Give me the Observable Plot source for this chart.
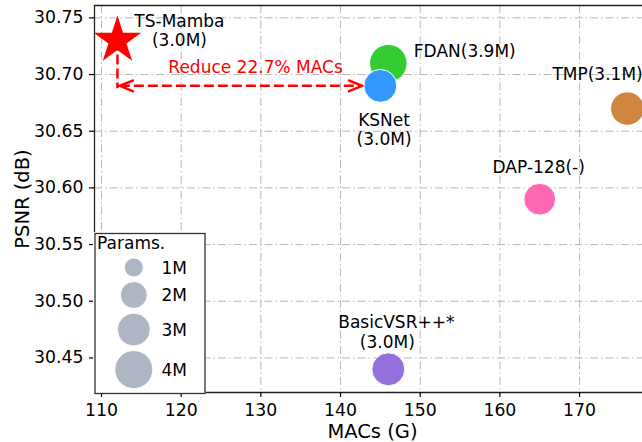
<!DOCTYPE html>
<html>
<head>
<meta charset="utf-8">
<script src="https://cdn.jsdelivr.net/npm/d3@7"></script>
<script src="https://cdn.jsdelivr.net/npm/@observablehq/plot@0.6"></script>
<style>
  html, body { margin: 0; padding: 0; background: white; overflow: hidden; }
  #wrap { position: relative; width: 642px; height: 442px; overflow: hidden; }
  #legend { position: absolute; left: 93px; top: 232px; }
</style>
</head>
<body>
<div id="wrap"><div id="chart"></div><div id="legend"></div></div>
<script>
// ---- data ----
const models = ["FDAN", "KSNet", "TMP", "DAP-128", "BasicVSR++*"];
const macs   = [146, 145, 176, 165, 146];          // G
const psnr   = [30.71, 30.69, 30.67, 30.59, 30.44]; // dB
const params = [3.9, 3.0, 3.1, 2.8, 3.0];           // M (DAP drawn slightly smaller, unknown "-")
const paramLabels = ["(3.9M)", "(3.0M)", "(3.1M)", "(-)", "(3.0M)"];

const oursName = "TS-Mamba";
const oursMacs = [112];
const oursPsnr = [30.73];
const oursParamsLabel = "(3.0M)";

const reduceText = "Reduce 22.7% MACs";
const arrowX = [112.3, 142.7];   // arrow tips (MACs)
const arrowY = [30.69];          // arrow level (PSNR)

const xTicks = [110, 120, 130, 140, 150, 160, 170];
const yTicks = [30.45, 30.50, 30.55, 30.60, 30.65, 30.70, 30.75];
const xDomain = [109.12, 177.9];
const yDomain = [30.4195, 30.7609];

const legendParams = [1, 2, 3, 4];
const legendLabels = ["1M", "2M", "3M", "4M"];
const legendTitle = "Params.";

// ---- styles ----
const palette = ["#33cc33", "#3399ff", "#cd853f", "#ff69b4", "#9370db"];
const red = "#ff0000";
const gridStyle = {stroke: "#b8b8b8", strokeOpacity: 1, strokeWidth: 1, strokeDasharray: "8,3,1.5,3"};
const font = "DejaVu Sans";

const rows = models.map((m, i) => ({model: m, macs: macs[i], psnr: psnr[i], params: params[i], plabel: paramLabels[i]}));
const ours = oursMacs.map((x, i) => ({macs: x, psnr: oursPsnr[i]}));
const row = name => rows.filter(d => d.model === name);

// custom open arrowhead symbols (tip at origin)
const headLeft = {draw(ctx, size) { const s = Math.sqrt(size / Math.PI); ctx.moveTo(s, -0.41 * s); ctx.lineTo(0, 0); ctx.lineTo(s, 0.41 * s); }};
const headRight = {draw(ctx, size) { const s = Math.sqrt(size / Math.PI); ctx.moveTo(-s, -0.41 * s); ctx.lineTo(0, 0); ctx.lineTo(-s, 0.41 * s); }};

const rScale = {type: "sqrt", domain: [0, 4], range: [0, 19]};

const chart = Plot.plot({
  width: 642, height: 442,
  marginLeft: 94, marginRight: 0, marginTop: 5, marginBottom: 50,
  style: {fontFamily: font, fontSize: "17px", background: "white", color: "black"},
  x: {domain: xDomain},
  y: {domain: yDomain},
  r: rScale,
  color: {domain: models, range: palette},
  marks: [
    Plot.gridX({ticks: xTicks, ...gridStyle}),
    Plot.gridY({ticks: yTicks, ...gridStyle}),
    // spines (left, top, bottom)
    Plot.ruleX([xDomain[0]], {stroke: "#222", strokeWidth: 1.3}),
    Plot.ruleY(yDomain, {stroke: "#222", strokeWidth: 1.3}),
    Plot.axisX({ticks: xTicks, tickSize: 5, tickPadding: 6, label: null, strokeWidth: 1.2, fontSize: 17.3}),
    Plot.axisY({ticks: yTicks, tickSize: 5, tickPadding: 6, label: null, tickFormat: d3.format(".2f"), strokeWidth: 1.2, fontSize: 17.3}),
    Plot.text(["MACs (G)"], {frameAnchor: "bottom", textAnchor: "middle", lineAnchor: "middle", dx: 4, dy: 39, fontSize: 19.5}),
    Plot.text(["PSNR (dB)"], {frameAnchor: "left", textAnchor: "middle", lineAnchor: "middle", rotate: -90, dx: -72, fontSize: 19.5}),
    // red dashed guides
    Plot.link(ours, {x1: "macs", x2: "macs", y1: "psnr", y2: () => arrowY[0] - 0.002, stroke: red, strokeWidth: 2.5, strokeDasharray: "10,4"}),
    Plot.link(arrowY, {x1: () => arrowX[0], x2: () => arrowX[1], y1: d => d, y2: d => d, stroke: red, strokeWidth: 2.5, strokeDasharray: "10,4"}),
    Plot.dot(arrowY, {x: () => arrowX[0], y: d => d, symbol: headLeft, r: 14, fill: "none", stroke: red, strokeWidth: 2.5}),
    Plot.dot(arrowY, {x: () => arrowX[1], y: d => d, symbol: headRight, r: 14, fill: "none", stroke: red, strokeWidth: 2.5}),
    Plot.text(arrowY, {x: () => (arrowX[0] + arrowX[1]) / 2, y: d => d, text: () => reduceText, fill: red, dx: 14.6, dy: -17.9, fontSize: 17}),
    // model bubbles
    Plot.dot(rows, {x: "macs", y: "psnr", r: "params", fill: "model", stroke: "white", strokeWidth: 1, fillOpacity: 1}),
    // ours: star
    Plot.dot(ours, {x: "macs", y: "psnr", symbol: "star", r: 14.9, fill: red, stroke: "none"}),
    // labels
    Plot.text(ours, {x: "macs", y: "psnr", text: () => oursName + "\n" + oursParamsLabel, lineHeight: 1.106, dx: 62, dy: -9.7, fontSize: 17}),
    Plot.text(row("FDAN"), {x: "macs", y: "psnr", text: d => d.model + d.plabel, textAnchor: "start", dx: 25.5, dy: -11.9, fontSize: 17}),
    Plot.text(row("KSNet"), {x: "macs", y: "psnr", text: d => d.model + "\n" + d.plabel, lineHeight: 1.106, dx: 3.7, dy: 44, fontSize: 17}),
    Plot.text(row("TMP"), {x: "macs", y: "psnr", text: d => d.model + d.plabel, dx: -29.8, dy: -34, fontSize: 17}),
    Plot.text(row("DAP-128"), {x: "macs", y: "psnr", text: d => d.model + d.plabel, dx: -1, dy: -31.9, fontSize: 17}),
    Plot.text(row("BasicVSR++*"), {x: "macs", y: "psnr", text: "model", dx: 8, dy: -46.9, fontSize: 17}),
    Plot.text(row("BasicVSR++*"), {x: "macs", y: "psnr", text: "plabel", dx: -1, dy: -26.9, fontSize: 17})
  ]
});
document.getElementById("chart").appendChild(chart);

// ---- legend (overlay box, same radius scale) ----
const rFn = d3.scaleSqrt().domain(rScale.domain).range(rScale.range);
const legendRows = [];
let yPos = 35;
legendParams.forEach((p, i) => {
  if (i > 0) yPos += rFn(legendParams[i - 1]) + rFn(p) + 4.6;
  legendRows.push({p, label: legendLabels[i], y: yPos});
});
const legend = Plot.plot({
  width: 113, height: 161,
  marginLeft: 1.5, marginRight: 1.5, marginTop: 1, marginBottom: 0,
  style: {fontFamily: font, fontSize: "17px", background: "white", color: "black", overflow: "visible"},
  x: {type: "identity", axis: null},
  y: {type: "identity", axis: null},
  r: rScale,
  marks: [
    Plot.frame({stroke: "#333", strokeWidth: 1.3, fill: "white"}),
    Plot.text([legendTitle], {x: () => 3.6, y: () => 11.5, textAnchor: "start", fontSize: 17}),
    Plot.dot(legendRows, {x: () => 40.3, y: "y", r: "p", fill: "#aeb6c3", stroke: "white", strokeWidth: 1}),
    Plot.text(legendRows, {x: () => 68, y: "y", text: "label", textAnchor: "start", dy: 0.8, fontSize: 17})
  ]
});
document.getElementById("legend").appendChild(legend);
</script>
</body>
</html>
